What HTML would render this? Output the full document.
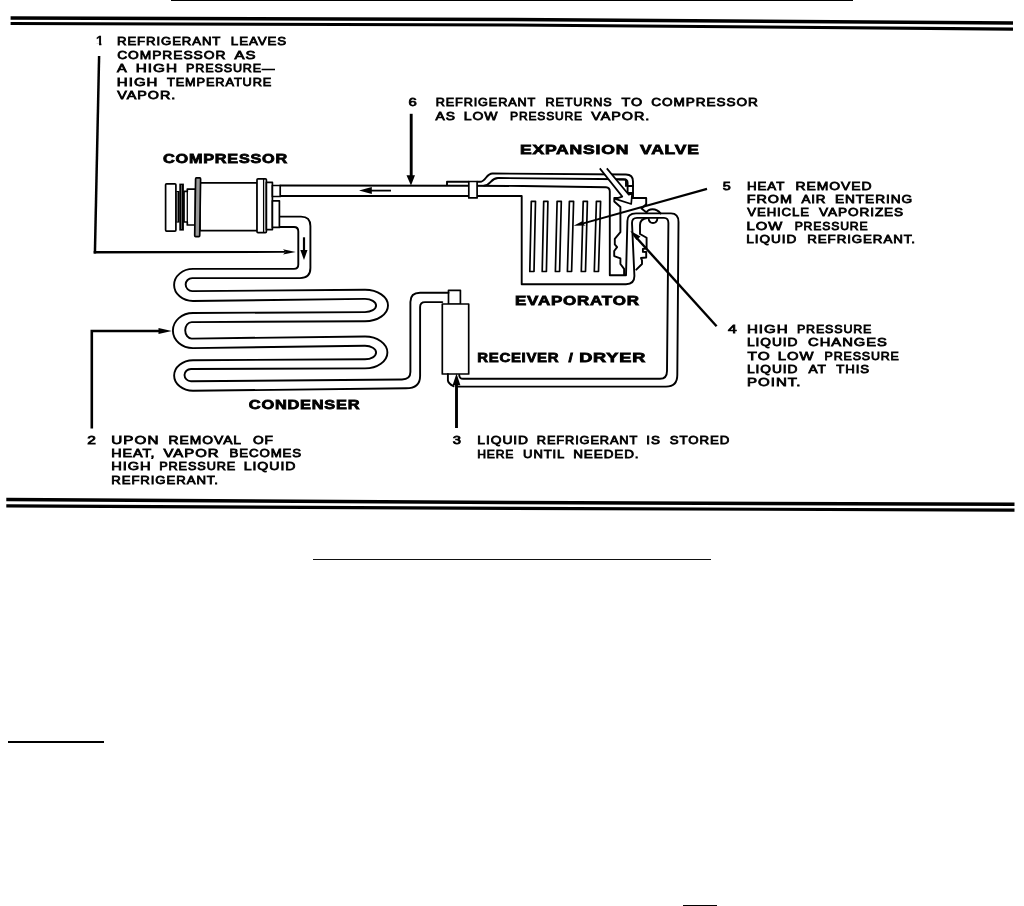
<!DOCTYPE html>
<html lang="en"><head><meta charset="utf-8"><title>Refrigeration cycle</title>
<style>
html,body{margin:0;padding:0;background:#fff;}
body{width:1024px;height:906px;overflow:hidden;position:relative;}
svg{position:absolute;left:0;top:0;display:block;filter:grayscale(1);}
text{font-family:"Liberation Sans",sans-serif;fill:#000;}
.t{font-size:11.8px;font-weight:normal;stroke:#000;stroke-width:0.8px;letter-spacing:0.8px;}
.b{font-size:12px;font-weight:bold;stroke:#000;stroke-width:.3px;}
.h{font-size:13.0px;font-weight:bold;stroke:#000;stroke-width:0.8px;letter-spacing:0.6px;}
.l{fill:none;stroke:#000;stroke-width:1.9;stroke-linejoin:round;stroke-linecap:round;}
.w{fill:#fff;stroke:#000;stroke-width:1.7;stroke-linejoin:round;}
.k{fill:#000;stroke:none;}
</style></head><body>
<svg width="1024" height="906" viewBox="0 0 1024 906">
<rect width="1024" height="906" fill="#fff"/>
<!-- RULES -->
<g id="rules" fill="none" stroke="#000">
<rect x="171" y="0" width="682" height="1" fill="#000" stroke="none"/>
<polyline points="10.6,17.9 512,19.4 1013,23" stroke-width="3.5"/>
<polyline points="10.6,23.5 512,25 1013,29.1" stroke-width="3.1"/>
<polyline points="6.3,499.5 512,502.5 1014.5,504.3" stroke-width="3.5"/>
<polyline points="6.3,505.8 512,508.4 1014.5,510.1" stroke-width="3.2"/>
<rect x="313" y="559" width="398" height="1" fill="#111" stroke="none"/>
<rect x="8" y="741" width="96" height="2" fill="#000" stroke="none"/>
<rect x="683" y="905" width="34" height="1" fill="#000" stroke="none"/>
</g>
<!-- TEXT -->
<!--TEXTBEGIN-->
<g class="b">
</g>
<g class="t">
<text x="116.97" y="45" textLength="104.35" lengthAdjust="spacingAndGlyphs">REFRIGERANT</text>
<text x="230.86" y="45" textLength="56.31" lengthAdjust="spacingAndGlyphs">LEAVES</text>
<text x="117.15" y="59" textLength="109.16" lengthAdjust="spacingAndGlyphs">COMPRESSOR</text>
<text x="234.4" y="59" textLength="22.05" lengthAdjust="spacingAndGlyphs">AS</text>
<text x="117.0" y="72" textLength="10.72" lengthAdjust="spacingAndGlyphs">A</text>
<text x="135.71" y="72" textLength="42.38" lengthAdjust="spacingAndGlyphs">HIGH</text>
<text x="186.02" y="72" textLength="89.44" lengthAdjust="spacingAndGlyphs">PRESSURE—</text>
<text x="116.83" y="86" textLength="41.62" lengthAdjust="spacingAndGlyphs">HIGH</text>
<text x="167.0" y="86" textLength="105.2" lengthAdjust="spacingAndGlyphs">TEMPERATURE</text>
<text x="117.2" y="99" textLength="59.07" lengthAdjust="spacingAndGlyphs">VAPOR.</text>
<text x="87.17" y="444" textLength="9.71" lengthAdjust="spacingAndGlyphs">2</text>
<text x="111.35" y="444" textLength="48.13" lengthAdjust="spacingAndGlyphs">UPON</text>
<text x="168.62" y="444" textLength="73.37" lengthAdjust="spacingAndGlyphs">REMOVAL</text>
<text x="252.95" y="444" textLength="21.03" lengthAdjust="spacingAndGlyphs">OF</text>
<text x="111.18" y="457" textLength="44.36" lengthAdjust="spacingAndGlyphs">HEAT,</text>
<text x="163.5" y="457" textLength="56.13" lengthAdjust="spacingAndGlyphs">VAPOR</text>
<text x="229.46" y="457" textLength="72.69" lengthAdjust="spacingAndGlyphs">BECOMES</text>
<text x="111.16" y="470" textLength="40.53" lengthAdjust="spacingAndGlyphs">HIGH</text>
<text x="159.2" y="470" textLength="76.99" lengthAdjust="spacingAndGlyphs">PRESSURE</text>
<text x="243.7" y="470" textLength="52.75" lengthAdjust="spacingAndGlyphs">LIQUID</text>
<text x="111.27" y="484" textLength="107.62" lengthAdjust="spacingAndGlyphs">REFRIGERANT.</text>
<text x="452.84" y="444" textLength="9.27" lengthAdjust="spacingAndGlyphs">3</text>
<text x="477.32" y="444" textLength="51.7" lengthAdjust="spacingAndGlyphs">LIQUID</text>
<text x="536.8" y="444" textLength="101.39" lengthAdjust="spacingAndGlyphs">REFRIGERANT</text>
<text x="646.25" y="444" textLength="14.53" lengthAdjust="spacingAndGlyphs">IS</text>
<text x="669.79" y="444" textLength="60.48" lengthAdjust="spacingAndGlyphs">STORED</text>
<text x="477.15" y="458" textLength="37.09" lengthAdjust="spacingAndGlyphs">HERE</text>
<text x="523.08" y="458" textLength="42.13" lengthAdjust="spacingAndGlyphs">UNTIL</text>
<text x="573.15" y="458" textLength="66.39" lengthAdjust="spacingAndGlyphs">NEEDED.</text>
<text x="728.06" y="333" textLength="9.8" lengthAdjust="spacingAndGlyphs">4</text>
<text x="746.92" y="333" textLength="41.83" lengthAdjust="spacingAndGlyphs">HIGH</text>
<text x="796.93" y="333" textLength="75.34" lengthAdjust="spacingAndGlyphs">PRESSURE</text>
<text x="747.02" y="346" textLength="51.49" lengthAdjust="spacingAndGlyphs">LIQUID</text>
<text x="808.11" y="346" textLength="79.81" lengthAdjust="spacingAndGlyphs">CHANGES</text>
<text x="747.56" y="360" textLength="23.15" lengthAdjust="spacingAndGlyphs">TO</text>
<text x="777.74" y="360" textLength="36.72" lengthAdjust="spacingAndGlyphs">LOW</text>
<text x="824.53" y="360" textLength="75.24" lengthAdjust="spacingAndGlyphs">PRESSURE</text>
<text x="747.02" y="373" textLength="51.49" lengthAdjust="spacingAndGlyphs">LIQUID</text>
<text x="808.4" y="373" textLength="18.36" lengthAdjust="spacingAndGlyphs">AT</text>
<text x="836.29" y="373" textLength="33.76" lengthAdjust="spacingAndGlyphs">THIS</text>
<text x="746.92" y="386" textLength="54.66" lengthAdjust="spacingAndGlyphs">POINT.</text>
<text x="722.85" y="190" textLength="9.01" lengthAdjust="spacingAndGlyphs">5</text>
<text x="747.06" y="190" textLength="38.17" lengthAdjust="spacingAndGlyphs">HEAT</text>
<text x="795.51" y="190" textLength="77.12" lengthAdjust="spacingAndGlyphs">REMOVED</text>
<text x="746.68" y="203" textLength="46.16" lengthAdjust="spacingAndGlyphs">FROM</text>
<text x="801.4" y="203" textLength="25.07" lengthAdjust="spacingAndGlyphs">AIR</text>
<text x="834.93" y="203" textLength="78.22" lengthAdjust="spacingAndGlyphs">ENTERING</text>
<text x="747.3" y="216" textLength="62.65" lengthAdjust="spacingAndGlyphs">VEHICLE</text>
<text x="819.0" y="216" textLength="85.09" lengthAdjust="spacingAndGlyphs">VAPORIZES</text>
<text x="746.64" y="230" textLength="36.72" lengthAdjust="spacingAndGlyphs">LOW</text>
<text x="794.65" y="230" textLength="73.79" lengthAdjust="spacingAndGlyphs">PRESSURE</text>
<text x="746.34" y="243" textLength="50.86" lengthAdjust="spacingAndGlyphs">LIQUID</text>
<text x="807.26" y="243" textLength="108.65" lengthAdjust="spacingAndGlyphs">REFRIGERANT.</text>
<text x="408.5" y="106" textLength="9.31" lengthAdjust="spacingAndGlyphs">6</text>
<text x="435.71" y="106" textLength="100.47" lengthAdjust="spacingAndGlyphs">REFRIGERANT</text>
<text x="545.41" y="106" textLength="67.07" lengthAdjust="spacingAndGlyphs">RETURNS</text>
<text x="621.58" y="106" textLength="21.62" lengthAdjust="spacingAndGlyphs">TO</text>
<text x="651.36" y="106" textLength="107.43" lengthAdjust="spacingAndGlyphs">COMPRESSOR</text>
<text x="435.6" y="120" textLength="20.32" lengthAdjust="spacingAndGlyphs">AS</text>
<text x="463.71" y="120" textLength="34.71" lengthAdjust="spacingAndGlyphs">LOW</text>
<text x="510.06" y="120" textLength="72.87" lengthAdjust="spacingAndGlyphs">PRESSURE</text>
<text x="591.2" y="120" textLength="59.18" lengthAdjust="spacingAndGlyphs">VAPOR.</text>
</g>
<g class="h">
<text x="163.09" y="163" textLength="124.87" lengthAdjust="spacingAndGlyphs">COMPRESSOR</text>
<text x="248.89" y="409" textLength="111.38" lengthAdjust="spacingAndGlyphs">CONDENSER</text>
<text x="477.26" y="362" textLength="82.01" lengthAdjust="spacingAndGlyphs">RECEIVER</text>
<text x="568.4" y="362" textLength="5.07" lengthAdjust="spacingAndGlyphs">/</text>
<text x="579.17" y="362" textLength="67.02" lengthAdjust="spacingAndGlyphs">DRYER</text>
<text x="515.04" y="305" textLength="124.67" lengthAdjust="spacingAndGlyphs">EVAPORATOR</text>
<text x="519.9" y="154" textLength="109.26" lengthAdjust="spacingAndGlyphs">EXPANSION</text>
<text x="640.1" y="154" textLength="59.46" lengthAdjust="spacingAndGlyphs">VALVE</text>
</g>
<!--TEXTEND-->
<clipPath id="c1"><polygon points="95,33 101.4,33 101.4,47 99.05,47 99.05,43.3 95,43.3"/></clipPath>
<text x="96.1" y="45" clip-path="url(#c1)" style="font-size:13.4px;font-weight:bold;stroke:#000;stroke-width:.3px">1</text>
<!-- DIAGRAM -->
<g id="diagram">
<!-- return pipe + evaporator shell + loop (outer) -->
<path class="l" stroke-width="2.2" d="M280.2,185.5 L468,185.7 L523,186 L606,187.2 Q609.8,187.4 609.8,191.5 V275.3 H626 L627.4,221 Q627.4,213.4 636,213.4 H671 Q678.5,213.4 678.5,222 L677.3,375 Q677.3,386.6 666,386.6 H458"/>
<path class="l" stroke-width="2.2" d="M280.2,196 H521.7 V284.2 H626 Q634.4,284.2 634.4,276 L632,223 Q632,217.9 637,217.9 H664 Q668.4,217.9 668.4,223 L667,371 Q667,378.8 660,378.8 H463 Q459.4,378.8 459.2,375"/>
<!-- fins -->
<g class="w" stroke-width="2">
<path d="M531.3,201.3 h4.2 l-1.5,70.2 h-4.2 z"/>
<path d="M543.7,201.3 h4.2 l-1.5,70.2 h-4.2 z"/>
<path d="M557.1,201.3 h4.2 l-1.7,70.2 h-4.2 z"/>
<path d="M569.4,201.3 h4.2 l-2,70.2 h-4.2 z"/>
<path d="M583.2,201.3 h4.2 l-1.9,70.2 h-4.2 z"/>
<path d="M596.4,201.3 h4.2 l-2.1,70.2 h-4.2 z"/>
</g>
<!-- capillary tube -->
<path class="l" d="M447,185 V181.8 H468.7 M477.2,181.8 H480 C486,181.8 486,173.5 492.5,173.5 L626,174.5 Q633,174.5 633,181.5 V197.5" stroke-width="1.9"/>
<path class="l" d="M484,185.6 C491,185.6 490.5,178 498,178 L623.5,179.3 Q627.6,179.3 627.6,183 V193 M627.6,186 H633 M627.6,193 H633" stroke-width="1.9"/>
<path class="l" d="M619,179.6 H626 V186" stroke-width="2.6"/>
<rect class="w" x="468.8" y="181.5" width="8.3" height="16.4" stroke-width="2"/>
<!-- valve -->
<path class="l" d="M646.2,204.2 V198 H614.3 V201.5 L620.4,207 V232.2 L614.8,238.8 V244.4 L617.1,247.2 L614.2,251 V256.1 L620.4,258.4 V264 L624.1,268.8 V275" stroke-width="1.6"/>
<path class="l" d="M646.2,204.2 L641.5,208.5 L646.5,212.5 Q648,209.2 652.5,209.2 Q657.5,209.2 660.5,213.4" stroke-width="1.6"/>
<path class="l" d="M648.5,218 Q649,223 653,223 Q657,223 657.5,218" stroke-width="1.6"/>
<path class="l" d="M647,218 Q640,219 640,225 V234 L646.6,237.8 V248.4 L642.9,249 V251.9 L646.2,252 V257.5 L641,258 L642,260.3 V264 L636.3,269.7" stroke-width="1.6"/>
<!-- hollow arrow -->
<path class="w" d="M599.8,168.4 L622.3,196.6 L615.2,198.9 L631.2,204 L632.1,193.8 L628.8,194.7 L606.8,168.4" stroke-width="1.5" stroke-linejoin="miter"/>
<!-- receiver / dryer -->
<rect class="w" x="448.5" y="290.3" width="11.9" height="14" stroke-width="1.6"/>
<rect class="w" x="442.3" y="304" width="26.4" height="70" stroke-width="2.1"/>
<path class="l" d="M447.9,374 V380.5 Q448.3,383.5 453.5,386.2"/>
<!-- compressor elbow + condenser tube -->
<path class="l" d="M279.4,216.6 H301 Q310.4,216.6 310.4,226 V268 Q310.4,278.1 300,278.1 H192.2 A6.5,6.45 0 0 0 192.2,291.1 L365,289.8 A23,15.7 0 0 1 365,321.2 L191.7,322.1 A6.5,8.25 0 0 0 191.7,338.6 L365,336.5 A22.4,15.95 0 0 1 365,368.4 L191,369 A6.5,6.1 0 0 0 191,381.2 L402,379.5 Q410.4,379.3 410.4,372 V302 Q410.4,292.8 420,292.8 H448.5"/>
<path class="l" d="M279.4,227 H294 Q298.3,227 298.3,231.5 V264.5 Q298.3,268.9 294,268.9 H193 A18.9,16.05 0 0 0 193,301 L365,298.9 A11.1,6.6 0 0 1 365,312.1 L193,313 A20.1,17.55 0 0 0 193,348.1 L365,345.8 A11.1,6.75 0 0 1 365,359.3 L193,360.2 A18.9,15.3 0 0 0 193,390.8 L406,388.3 Q420.1,388.3 420.1,376 V307 Q420.1,302.1 425,302.1 H442.3"/>
<!-- compressor -->
<g class="w" stroke-width="1.6">
<rect x="165.6" y="183.8" width="10.3" height="47.3" rx="1"/>
<rect x="176.3" y="191" width="3.2" height="31.6" fill="#000" stroke="none"/>
<rect x="176.9" y="192" width=".8" height="29.6" fill="#aaa" stroke="none"/>
<rect x="179.3" y="183.6" width="4.6" height="47" fill="#000" stroke="none"/>
<rect x="181.2" y="185" width=".7" height="44" fill="#888" stroke="none"/>
<path d="M184,191.4 H187.3 V189.1 H195.5 V225 H187.3 V222 H184 Z"/>
<path d="M187.3,191 V222" fill="none" stroke-width="1.3"/>
<rect x="200" y="182.8" width="57.4" height="47.8"/>
<path d="M196.4,177.9 H199.8 Q200.6,177.9 200.6,179 L199.7,235.6 Q199.7,236.6 198.8,236.6 H195.6 Q194.7,236.6 194.7,235.6 L195.6,179 Q195.6,177.9 196.4,177.9 Z" fill="#999"/>
<rect x="257" y="178.8" width="9.4" height="53.8" rx="1"/>
<path d="M263.6,179 V232.6" fill="none" stroke-width="1.3"/>
<rect x="266.4" y="182.4" width="6" height="47.2"/>
<rect x="272.4" y="185.5" width="7.8" height="11"/>
<rect x="272.4" y="200.8" width="7" height="26.6"/>
</g>
<!-- leaders / arrows -->
<g fill="none" stroke="#000" stroke-linecap="butt">
<path d="M99.1,56 L94.9,253.5" stroke-width="2.5"/>
<path d="M304,237.3 V252" stroke-width="2.2"/>
<path d="M91.8,428.6 V331 H160" stroke-width="2.6" stroke-linejoin="miter"/>
<path d="M456.5,428 V384" stroke-width="2.9"/>
<path d="M411.2,113.8 V177" stroke-width="2.9"/>
<path d="M391,190.6 H370" stroke-width="1.8"/>
<path d="M716.6,326.3 L634,235" stroke-width="2.4"/>
</g>
<g class="k">
<polygon points="93.7,251.1 285,251.05 285,252.75 93.7,253.6"/>
<polygon points="283,249.3 295.8,251.9 283,254.5 285.5,251.9"/>
<polygon points="300.3,250 307.5,250 304,259.9"/>
<polygon points="158.5,328 171.8,331 158.5,334"/>
<polygon points="452.6,385.2 460.4,385.2 456.5,373.6"/>
<polygon points="406.5,175.3 415,175.3 411,185.4"/>
<polygon points="371.8,187.1 371.8,194.1 359,190.6"/>
<polygon points="573.6,225.8 583.6,220.4 583,222.6 706.7,187.7 707.3,189.9 583.6,224.3 585.6,225.6"/>
<polygon points="630.2,230.8 640.5,236.5 636.5,240"/>
</g>
</g>
</svg>
</body></html>
